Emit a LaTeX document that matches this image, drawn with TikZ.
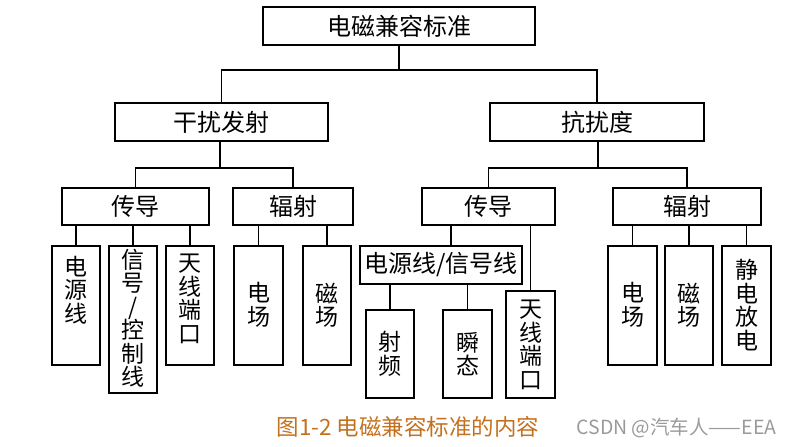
\documentclass[tikz,border=0pt]{standalone}
\usepackage{fontspec}
\newfontfamily\cjk{Noto Sans CJK SC}
\newfontfamily\capfont{Noto Sans CJK SC}
\definecolor{capcol}{HTML}{C4711F}
\definecolor{wmcol}{HTML}{9A9A9A}
\begin{document}
\begin{tikzpicture}[x=1pt,y=-1pt,
  box/.style={draw,line width=2.2pt,inner sep=0pt,font=\cjk\fontsize{24}{24}\selectfont,align=center},
  link/.style={line width=1.3pt},
  vtxt/.style={font=\cjk\fontsize{23}{23.5}\selectfont,align=center,inner sep=0pt}]
\useasboundingbox (0,0) rectangle (796,447);
\newcommand{\bx}[6]{\node[box,minimum width=#4-#2,minimum height=#5-#3] (#1) at ({(#2+#4)/2},{(#3+#5)/2}) {#6};}
\bx{top}{263}{7}{535}{45}{电磁兼容标准}
\bx{emi}{115}{103}{328}{141}{干扰发射}
\bx{ems}{490}{103}{704}{141}{抗扰度}
\bx{cdl}{62}{188}{209}{225}{传导}
\bx{fsl}{233}{188}{353}{225}{辐射}
\bx{cdr}{422}{188}{555}{225}{传导}
\bx{fsr}{613}{188}{761}{225}{辐射}
\bx{dyx}{52}{246}{100}{365}{}
\bx{xhk}{109}{246}{157}{393}{}
\bx{txl}{166}{246}{214}{365}{}
\bx{dcl}{234}{246}{283}{365}{}
\bx{ccl}{303}{246}{351}{365}{}
\bx{pline}{360}{246}{522}{284}{电源线/信号线}
\bx{sp}{366}{310}{414}{398}{}
\bx{st}{443}{310}{492}{398}{}
\bx{txr}{506}{291}{555}{398}{}
\bx{dcr}{608}{246}{657}{365}{}
\bx{ccr}{665}{246}{713}{365}{}
\bx{jd}{722}{246}{771}{365}{}
\node[vtxt] (t1) at (76,290) {电\\源\\线};
\node[vtxt] (t2) at (133,318) {信\\号\\/\\控\\制\\线};
\node[vtxt] (t3) at (190,299) {天\\线\\端\\口};
\node[vtxt] (t4) at (258.5,305) {电\\场};
\node[vtxt] (t5) at (327,305) {磁\\场};
\node[vtxt] (t6) at (390,354) {射\\频};
\node[vtxt] (t7) at (467.5,354) {瞬\\态};
\node[vtxt] (t8) at (530.5,345) {天\\线\\端\\口};
\node[vtxt] (t9) at (632.5,305) {电\\场};
\node[vtxt] (t10) at (689,305) {磁\\场};
\node[vtxt] (t11) at (746.5,305) {静\\电\\放\\电};
\coordinate (j0) at (399,70);
\draw[link] (top.south) -- (j0);
\draw[link] (emi.north) |- (j0);
\draw[link] (ems.north) |- (j0);
\coordinate (j1) at (220,168);
\draw[link] (emi.south -| j1) -- (j1);
\draw[link] (cdl.north) |- (j1);
\draw[link] (fsl.north) |- (j1);
\coordinate (j2) at (598,168);
\draw[link] (ems.south -| j2) -- (j2);
\draw[link] (cdr.north) |- (j2);
\draw[link] (fsr.north) |- (j2);
\foreach \c in {dyx,xhk,txl}{\draw[link] (\c.north) -- (\c.north |- cdl.south);}
\foreach \c in {dcl,ccl}{\draw[link] (\c.north) -- (\c.north |- fsl.south);}
\foreach \c in {dcr,ccr,jd}{\draw[link] (\c.north) -- (\c.north |- fsr.south);}
\foreach \c in {sp,st}{\draw[link] (\c.north) -- (\c.north |- pline.south);}
\coordinate (xa) at (451,0);
\draw[link] (pline.north -| xa) -- (cdr.south -| xa);
\draw[link] (txr.north) -- (txr.north |- cdr.south);
\node[font=\capfont\fontsize{22.5}{24}\selectfont,text=capcol,inner sep=0pt] (cap) at (408,427) {图1-2 电磁兼容标准的内容};
\node[font=\capfont\fontsize{19.5}{21}\selectfont,text=wmcol,inner sep=0pt] (wm) at (676.5,428) {CSDN @汽车人——EEA};
\end{tikzpicture}
\end{document}
